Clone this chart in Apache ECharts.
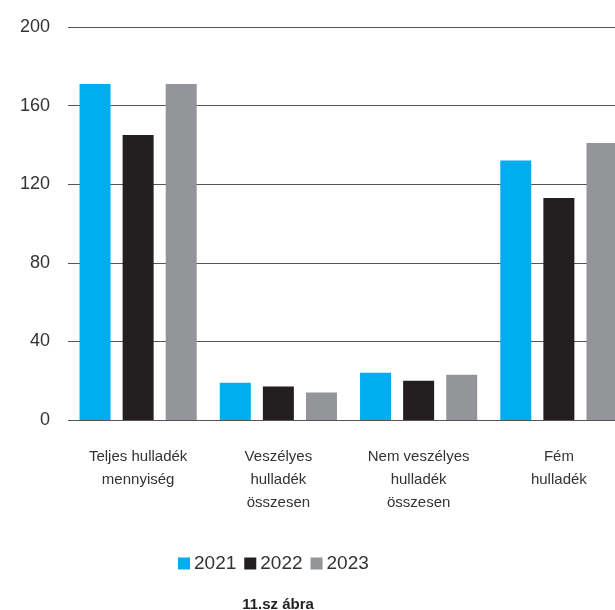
<!DOCTYPE html>
<html>
<head>
<meta charset="utf-8">
<script src="https://cdn.jsdelivr.net/npm/echarts@6/dist/echarts.min.js"></script>
<style>
  html, body { margin: 0; padding: 0; background: #fff; }
  #chart { width: 615px; height: 610px; }
</style>
</head>
<body>
<div id="chart"></div>
<script>
// adatok
const categories = [
  'Teljes hulladék\nmennyiség',
  'Veszélyes\nhulladék\nösszesen',
  'Nem veszélyes\nhulladék\nösszesen',
  'Fém\nhulladék'
];
const years = ['2021', '2022', '2023'];
const values2021 = [171, 19, 24, 132];
const values2022 = [145, 17, 20, 113];
const values2023 = [171, 14, 23, 141];
const yTicks = [0, 40, 80, 120, 160, 200];

const colors = ['#00aeef', '#231f20', '#939598'];
const narrow = '"Liberation Sans Narrow", "Liberation Sans", sans-serif';

const myChart = echarts.init(document.getElementById('chart'));

const series = [values2021, values2022, values2023].map((vals, i) => ({
  name: years[i],
  type: 'bar',
  data: vals,
  barWidth: 31,
  barGap: '39%',
  itemStyle: { color: colors[i] },
}));

let option = {
  animation: false,
  color: colors,
  title: {
    text: '11.sz ábra',
    left: 273,
    top: 592,
    textAlign: 'center',
    textStyle: { fontFamily: narrow, fontSize: 15, fontWeight: 'bold', color: '#222' },
  },
  legend: {
    data: years,
    left: 178,
    top: 554,
    padding: 0,
    icon: 'rect',
    itemWidth: 12,
    itemHeight: 12,
    itemGap: 8,
    textStyle: { fontFamily: narrow, fontSize: 19, color: '#333', padding: [0, 0, 0, -1] },
  },
  grid: {
    left: 68,
    width: 561,
    top: 27,
    bottom: 190,
    containLabel: false,
    outerBoundsMode: 'none',
  },
  xAxis: {
    type: 'category',
    data: categories,
    axisLine: { show: false },
    axisTick: { show: false },
    axisLabel: {
      interval: 0,
      margin: 25,
      fontFamily: narrow,
      fontSize: 15,
      lineHeight: 23,
      color: '#333',
    },
  },
  yAxis: {
    type: 'value',
    min: yTicks[0],
    max: yTicks[yTicks.length - 1],
    interval: 40,
    axisLine: { show: false },
    axisTick: { show: false },
    axisLabel: {
      margin: 18,
      fontFamily: '"Liberation Sans", sans-serif',
      fontSize: 18,
      color: '#333',
      verticalAlign: 'middle',
      padding: [0, 0, 10, 0],
    },
    splitLine: { lineStyle: { color: '#555', width: 1 } },
  },
  series: series,
};

myChart.setOption(option);
</script>
</body>
</html>
